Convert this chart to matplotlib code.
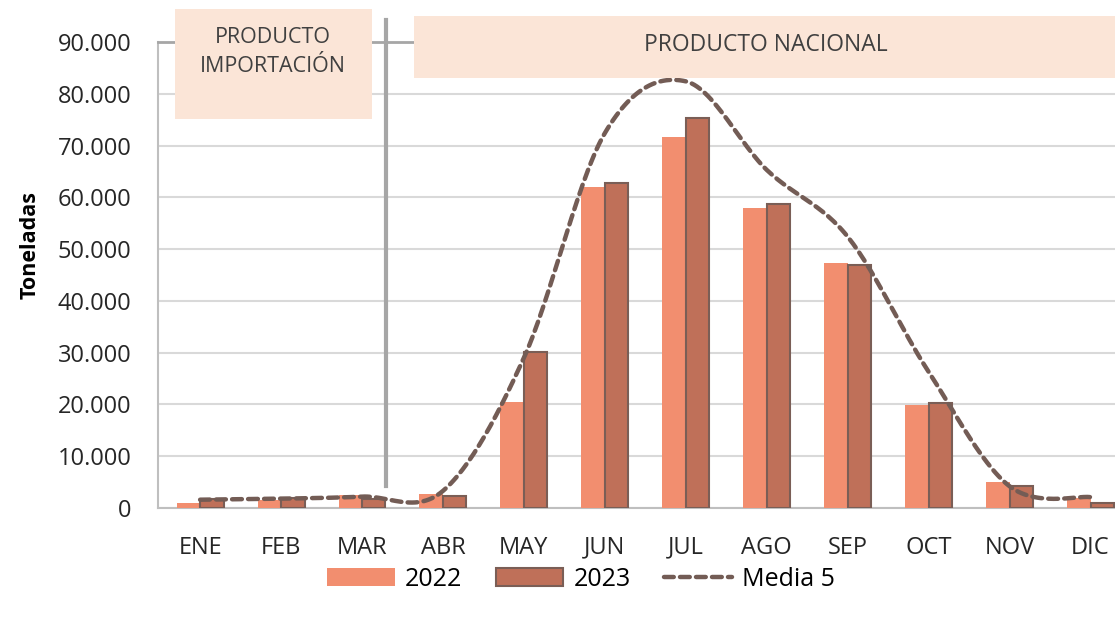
import numpy as np
import matplotlib
matplotlib.use("Agg")
import matplotlib.pyplot as plt
from matplotlib.patches import Rectangle
from matplotlib.lines import Line2D
from matplotlib.ticker import FuncFormatter

plt.rcParams['font.family'] = ['Open Sans', 'DejaVu Sans']

meses = ["ENE", "FEB", "MAR", "ABR", "MAY", "JUN", "JUL", "AGO", "SEP", "OCT", "NOV", "DIC"]
t2022 = [1000, 1500, 2500, 2700, 20500, 62000, 71600, 57900, 47300, 19900, 5000, 2000]
t2023 = [1700, 1900, 1700, 2300, 30200, 62700, 75400, 58700, 46900, 20300, 4300, 900]
media5 = [1600, 1800, 2200, 3300, 29000, 72400, 82400, 65300, 52400, 26300, 4200, 2100]

c2022 = "#F28E6F"
c2023 = "#BF7059"
borde = "#7A5E56"
c_media = "#735C55"
caja = "#FBE5D7"


def suavizar(xs, ys, n=30):
    # curva suavizada estilo Excel (Catmull-Rom)
    xs = np.asarray(xs, float)
    ys = np.asarray(ys, float)
    px = np.concatenate([[xs[0]], xs, [xs[-1]]])
    py = np.concatenate([[ys[0]], ys, [ys[-1]]])
    out_x, out_y = [], []
    for i in range(1, len(px) - 2):
        p0, p1, p2, p3 = (np.array([px[j], py[j]]) for j in (i - 1, i, i + 1, i + 2))
        c1 = p1 + (p2 - p0) / 6
        c2 = p2 - (p3 - p1) / 6
        t = np.linspace(0, 1, n)[:, None]
        b = (1 - t) ** 3 * p1 + 3 * (1 - t) ** 2 * t * c1 + 3 * (1 - t) * t ** 2 * c2 + t ** 3 * p2
        out_x.extend(b[:, 0])
        out_y.extend(b[:, 1])
    return np.array(out_x), np.array(out_y)


W, H = 1115, 618
fig = plt.figure(figsize=(W / 100, H / 100), dpi=100)
ax = fig.add_axes([158 / W, (H - 508) / H, (1131 - 158) / W, (508 - 42) / H])

x = np.arange(len(meses))
bw = 0.29
b1 = ax.bar(x - bw / 2, t2022, bw, color=c2022, label="2022", zorder=3)
b2 = ax.bar(x + bw / 2, t2023, bw, color=c2023, edgecolor=borde, linewidth=1.5, label="2023", zorder=3)
sx, sy = suavizar(x, media5)
ln, = ax.plot(sx, sy, color=c_media, lw=3.2, dashes=(2.2, 1.4), label="Media 5", zorder=4,
              dash_capstyle='round')

ax.set_xlim(-0.52, 11.5)
ax.set_ylim(0, 90000)
ax.set_yticks(np.arange(0, 90001, 10000))
ax.yaxis.set_major_formatter(FuncFormatter(lambda v, p: f"{int(v):,}".replace(",", ".")))
ax.set_xticks(x)
ax.set_xticklabels(meses)
ax.tick_params(axis='both', length=0, labelsize=17, colors="#262626")
ax.tick_params(axis='x', pad=20)
ax.tick_params(axis='y', pad=19)
ax.grid(axis='y', color="#D9D9D9", lw=1.5, zorder=0)
for s in ax.spines.values():
    s.set_color("#BFBFBF")
    s.set_linewidth(1.5)
ax.spines['top'].set_color("#A6A6A6")
ax.spines['top'].set_linewidth(2)
ax.set_axisbelow(True)

fig.text(30 / W, 1 - 245 / H, "Toneladas", rotation=90, ha='center', va='center',
         fontsize=15.5, fontweight='bold', color="#000000")

# separador importacion / nacional
fig.add_artist(Line2D([386 / W, 386 / W], [1 - 20 / H, 1 - 486 / H], color="#A6A6A6", lw=3))

# cajas de texto
fig.add_artist(Rectangle((175 / W, 1 - 119 / H), 197 / W, 110 / H, facecolor=caja, edgecolor='none'))
fig.add_artist(Rectangle((414 / W, 1 - 78 / H), 720 / W, 62 / H, facecolor=caja, edgecolor='none'))
fig.text(273 / W, 1 - 52 / H, "PRODUCTO\nIMPORTACIÓN", ha='center', va='center',
         fontsize=15.5, color="#404040", linespacing=1.55)
fig.text(766 / W, 1 - 45 / H, "PRODUCTO NACIONAL", ha='center', va='center',
         fontsize=16.5, color="#404040")

fig.legend(handles=[b1, b2, ln], loc='center', bbox_to_anchor=(581 / W, 1 - 579 / H), ncol=3,
           frameon=False, fontsize=18, handlelength=2.7, handleheight=0.75,
           columnspacing=1.35, handletextpad=0.4)

fig.savefig("out.png", dpi=100)
